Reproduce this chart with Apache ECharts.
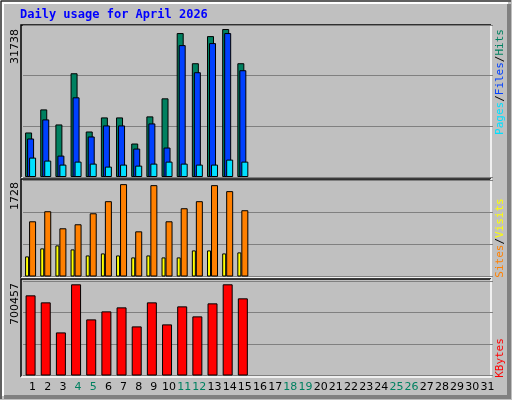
<!DOCTYPE html>
<html>
<head>
<meta charset="utf-8">
<script src="https://cdn.jsdelivr.net/npm/echarts@6/dist/echarts.min.js"></script>
<style>html,body{margin:0;padding:0;background:#c0c0c0}#chart{width:512px;height:400px}</style>
</head>
<body>
<div id="chart"></div>
<script>
var days = [];
for (var i = 1; i <= 31; i++) days.push(String(i));
var weekend = ['4','5','11','12','18','19','25','26'];

var hits   = [9550,14500,11270,22250,9760,12780,12780,7180,13000,16870,30870,24400,30220,31738,24400];
var files  = [8260,12350,4590,17090,8690,11060,11060,6100,11490,6320,28290,22470,28720,30870,22900];
var pages  = [4160,3520,2660,3300,2870,2230,2660,2440,2870,3300,2870,2660,2660,3730,3300];
var visits = [1033,1221,902,977,1183,1409,1728,845,1709,1033,1277,1409,1709,1597,1240];
var sites  = [376,526,582,507,394,432,394,357,394,357,357,488,488,432,451];
var kbytes = [615800,561900,331000,700457,431100,492600,523400,377200,561900,392600,531100,454200,554200,700457,592700];

var maxLabels = ['31738', '1728', '700457'];

var myChart = echarts.init(document.getElementById('chart'));
var border = {borderColor:'#000', borderWidth:1};
var split = {show:true, lineStyle:{color:'#808080', width:1}};

function xa(idx, showLabel){
    return {
        type:'category', gridIndex:idx, data:days,
        axisLine:{show:false}, axisTick:{show:false},
        axisLabel:{
            show:showLabel, interval:0, margin:6, padding:[0,0,0,4],
            fontFamily:'DejaVu Sans', fontSize:11,
            color:function(v){ return weekend.indexOf(v) >= 0 ? '#008060' : '#000'; }
        }
    };
}
function ya(idx, max){
    return {
        type:'value', gridIndex:idx, min:0, max:max, interval:max/3,
        axisLine:{show:false}, axisTick:{show:false}, axisLabel:{show:false},
        splitLine:split
    };
}
function frame(x, y, w, h){
    return [
        {type:'polyline', shape:{points:[[x,y+h],[x,y],[x+w,y]]}, style:{stroke:'#000', lineWidth:1.5, fill:null}},
        {type:'polyline', shape:{points:[[x+w,y],[x+w,y+h],[x,y+h]]}, style:{stroke:'#fff', lineWidth:1.5, fill:null}}
    ];
}
function sideLabel(x, y, parts){
    var txt = parts.map(function(p){ return '{' + p[1] + '|' + p[0] + '}'; }).join('{s|/}');
    var rich = {s:{fill:'#000'}};
    parts.forEach(function(p){ rich[p[1]] = {fill:p[2]}; });
    return {type:'text', x:x, y:y, rotation:Math.PI/2,
        style:{text:txt, rich:rich, font:'11px DejaVu Sans Mono', align:'center', verticalAlign:'middle'}};
}
function maxLabel(y, t){
    return {type:'text', x:15, y:y, rotation:Math.PI/2,
        style:{text:t, font:'11px DejaVu Sans', fill:'#000', align:'right', verticalAlign:'middle'}};
}

var graphics = [
    {type:'polyline', shape:{points:[[1,399],[1,1],[511,1]]}, style:{stroke:'#000', lineWidth:1, fill:null}},
    {type:'polyline', shape:{points:[[3,396],[3,3],[508,3]]}, style:{stroke:'#fff', lineWidth:2, fill:null}},
    {type:'polyline', shape:{points:[[509,4],[509,397],[4,397]]}, style:{stroke:'#808080', lineWidth:4, fill:null}},
    {type:'text', x:20, y:15, style:{text:'Daily usage for April 2026', font:'bold 12px DejaVu Sans Mono', fill:'#0000ff', verticalAlign:'middle'}},
    maxLabel(29, maxLabels[0]), maxLabel(182, maxLabels[1]), maxLabel(283, maxLabels[2]),
    sideLabel(500, 82, [['Pages','p','#00e0ff'],['Files','f','#0040ff'],['Hits','h','#008060']]),
    sideLabel(500, 238, [['Sites','s1','#ff8000'],['Visits','v','#ffff00']]),
    sideLabel(500, 358, [['KBytes','k','#ff0000']])
].concat(frame(21,25,470,153), frame(21,179,470,99), frame(21,279,470,98));

option = {
    backgroundColor:'#c0c0c0',
    animation:false,
    grid:[
        {left:23, right:19, top:25, height:152},
        {left:23, right:19, top:180.5, height:96},
        {left:23, right:19, top:281, height:94.5}
    ],
    xAxis:[xa(0,false), xa(1,false), xa(2,true)],
    yAxis:[ya(0,32600), ya(1,1796), ya(2,725900)],
    graphic:graphics,
    series:[
        {type:'bar', xAxisIndex:0, yAxisIndex:0, data:hits, barWidth:7, barGap:'-71.4%', itemStyle:Object.assign({color:'#008060'}, border)},
        {type:'bar', xAxisIndex:0, yAxisIndex:0, data:files, barWidth:7, barGap:'-71.4%', itemStyle:Object.assign({color:'#0040ff'}, border)},
        {type:'bar', xAxisIndex:0, yAxisIndex:0, data:pages, barWidth:7, barGap:'-71.4%', itemStyle:Object.assign({color:'#00e0ff'}, border)},
        {type:'bar', xAxisIndex:1, yAxisIndex:1, data:sites, barWidth:4, barGap:'0%', itemStyle:Object.assign({color:'#ffff00'}, border)},
        {type:'bar', xAxisIndex:1, yAxisIndex:1, data:visits, barWidth:7, barGap:'0%', itemStyle:Object.assign({color:'#ff8000'}, border)},
        {type:'bar', xAxisIndex:2, yAxisIndex:2, data:kbytes, barWidth:10, itemStyle:Object.assign({color:'#ff0000'}, border)}
    ]
};
myChart.setOption(option);
</script>
</body>
</html>
